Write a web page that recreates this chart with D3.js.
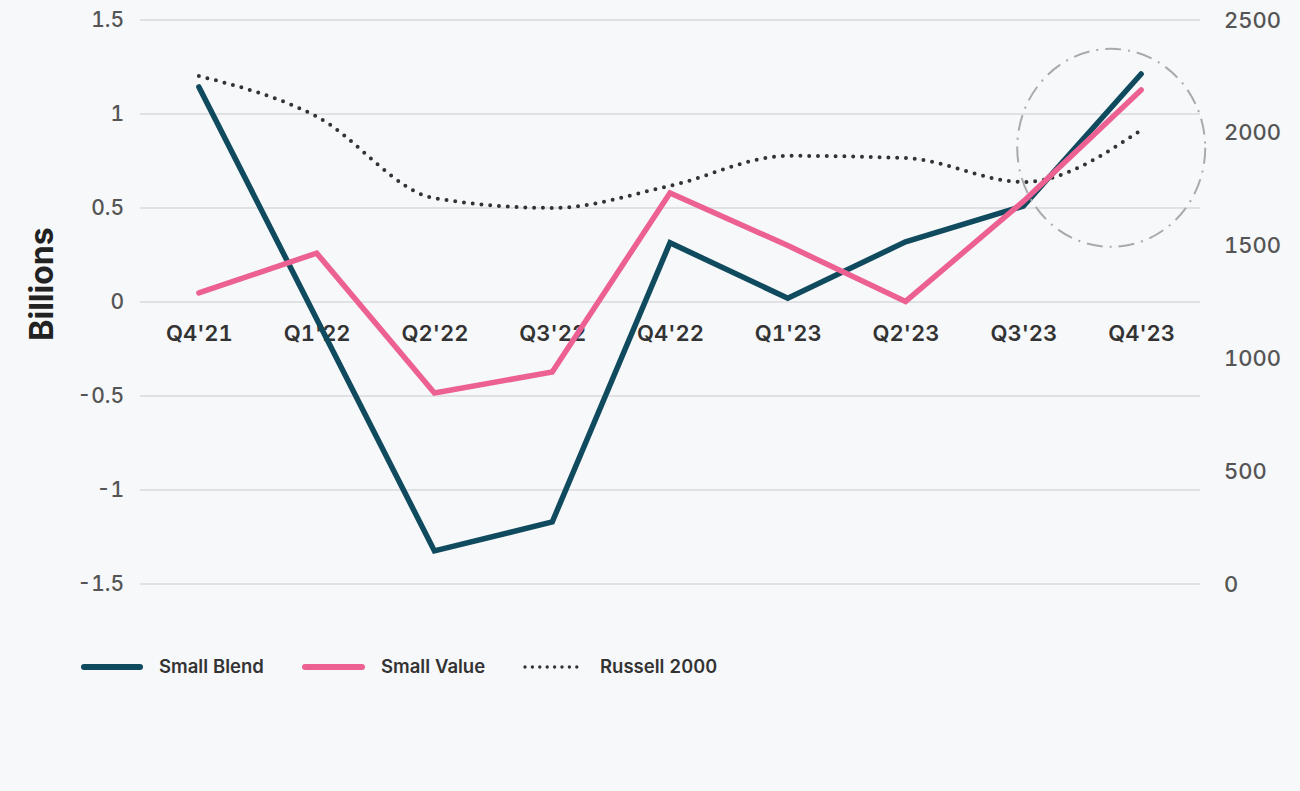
<!DOCTYPE html>
<html>
<head>
<meta charset="utf-8">
<script src="https://cdn.jsdelivr.net/npm/d3@7"></script>
<style>
  html, body { margin: 0; padding: 0; background: #f7f8fa; }
  svg { display: block; }
  text { font-family: Inter, "Noto Sans", sans-serif; font-variant-numeric: tabular-nums; }
</style>
</head>
<body>
<script>
const categories = ["Q4'21", "Q1'22", "Q2'22", "Q3'22", "Q4'22", "Q1'23", "Q2'23", "Q3'23", "Q4'23"];
const smallBlend = [1.144, -0.09, -1.324, -1.17, 0.315, 0.02, 0.32, 0.51, 1.213];
const smallValue = [0.048, 0.26, -0.484, -0.372, 0.58, 0.30, 0.003, 0.535, 1.128];
const russell2000 = [2252, 2072, 1710, 1667, 1765, 1898, 1888, 1782, 2012];
const leftTicks = [-1.5, -1, -0.5, 0, 0.5, 1, 1.5];
const rightTicks = [0, 500, 1000, 1500, 2000, 2500];
const seriesNames = ["Small Blend", "Small Value", "Russell 2000"];

const W = 1300, H = 791;
const plotLeft = 140, plotRight = 1200, plotTop = 20, plotBottom = 584;
const blue = "#0f4a5e", pink = "#ec6192", dark = "#333333";

const svg = d3.select("body").append("svg").attr("width", W).attr("height", H);
svg.append("rect").attr("width", W).attr("height", H).attr("fill", "#f7f8fa");

const x = d3.scalePoint().domain(categories).range([plotLeft, plotRight]).padding(0.5);
const yL = d3.scaleLinear().domain([-1.5, 1.5]).range([plotBottom, plotTop]);
const yR = d3.scaleLinear().domain([0, 2500]).range([plotBottom, plotTop]);

// gridlines
svg.append("g").selectAll("line").data(leftTicks).join("line")
  .attr("x1", plotLeft).attr("x2", plotRight)
  .attr("y1", d => yL(d)).attr("y2", d => yL(d))
  .attr("stroke", "#d9dadc").attr("stroke-width", 1.5);

// left axis
const gl = svg.append("g").attr("transform", `translate(${plotLeft},0)`)
  .call(d3.axisLeft(yL).tickValues(leftTicks).tickSize(0).tickPadding(16).tickFormat(d => String(d)));
gl.select(".domain").remove();
gl.selectAll("text").attr("font-size", 21).attr("fill", "#555").attr("font-weight", 500)
  .style("font-family", "Inter, sans-serif");

// right axis
const gr = svg.append("g").attr("transform", `translate(${plotRight},0)`)
  .call(d3.axisRight(yR).tickValues(rightTicks).tickSize(0).tickPadding(24).tickFormat(d3.format("d")));
gr.select(".domain").remove();
gr.selectAll("text").attr("font-size", 22).attr("fill", "#555").attr("font-weight", 500)
  .style("font-family", "Inter, sans-serif");

// category labels along zero line
const gx = svg.append("g").attr("transform", `translate(0,${yL(0)})`)
  .call(d3.axisBottom(x).tickSize(0).tickPadding(23));
gx.select(".domain").remove();
gx.selectAll("text").attr("font-size", 22).attr("fill", dark).attr("font-weight", 600)
  .style("font-family", "Inter, sans-serif");

// y axis title
svg.append("text")
  .attr("transform", `translate(53,${(plotTop + plotBottom) / 2 - 18}) rotate(-90)`)
  .attr("text-anchor", "middle")
  .attr("font-size", 32).attr("font-weight", 700).attr("fill", "#222")
  .text("Billions");

// lines
const lineL = d3.line().x((d, i) => x(categories[i])).y(d => yL(d));
const lineR = d3.line().x((d, i) => x(categories[i])).y(d => yR(d)).curve(d3.curveMonotoneX);

svg.append("path").datum(russell2000).attr("d", lineR)
  .attr("fill", "none").attr("stroke", dark).attr("stroke-width", 4)
  .attr("stroke-linecap", "round").attr("stroke-dasharray", "0 8.8");

svg.append("path").datum(smallBlend).attr("d", lineL)
  .attr("fill", "none").attr("stroke", blue).attr("stroke-width", 5.5)
  .attr("stroke-linecap", "round");

svg.append("path").datum(smallValue).attr("d", lineL)
  .attr("fill", "none").attr("stroke", pink).attr("stroke-width", 5.5)
  .attr("stroke-linecap", "round");

// highlight ellipse around last quarter
const cx = (x(categories[7]) + x(categories[8])) / 2 + 29;
svg.append("ellipse")
  .attr("cx", cx).attr("cy", yL(0.82))
  .attr("rx", 94).attr("ry", 99)
  .attr("fill", "none").attr("stroke", "#aaaaaa").attr("stroke-width", 2)
  .attr("stroke-dasharray", "16 7 2 7");

// legend
const legend = [
  { name: seriesNames[0], color: blue, dash: null, x0: 84, w: 56 },
  { name: seriesNames[1], color: pink, dash: null, x0: 305, w: 57 },
  { name: seriesNames[2], color: dark, dash: "0 7.4", x0: 525, w: 53 }
];
const ly = 667;
const lg = svg.append("g");
legend.forEach(l => {
  lg.append("line").attr("x1", l.x0).attr("x2", l.x0 + l.w).attr("y1", ly).attr("y2", ly)
    .attr("stroke", l.color).attr("stroke-width", l.dash ? 3.4 : 6)
    .attr("stroke-linecap", "round")
    .attr("stroke-dasharray", l.dash);
  lg.append("text").attr("x", l.x0 + l.w + (l.dash ? 22 : 19)).attr("y", ly).attr("dy", "0.35em")
    .attr("font-size", 18.5).attr("font-weight", 600).attr("fill", dark)
    .text(l.name);
});
</script>
</body>
</html>
